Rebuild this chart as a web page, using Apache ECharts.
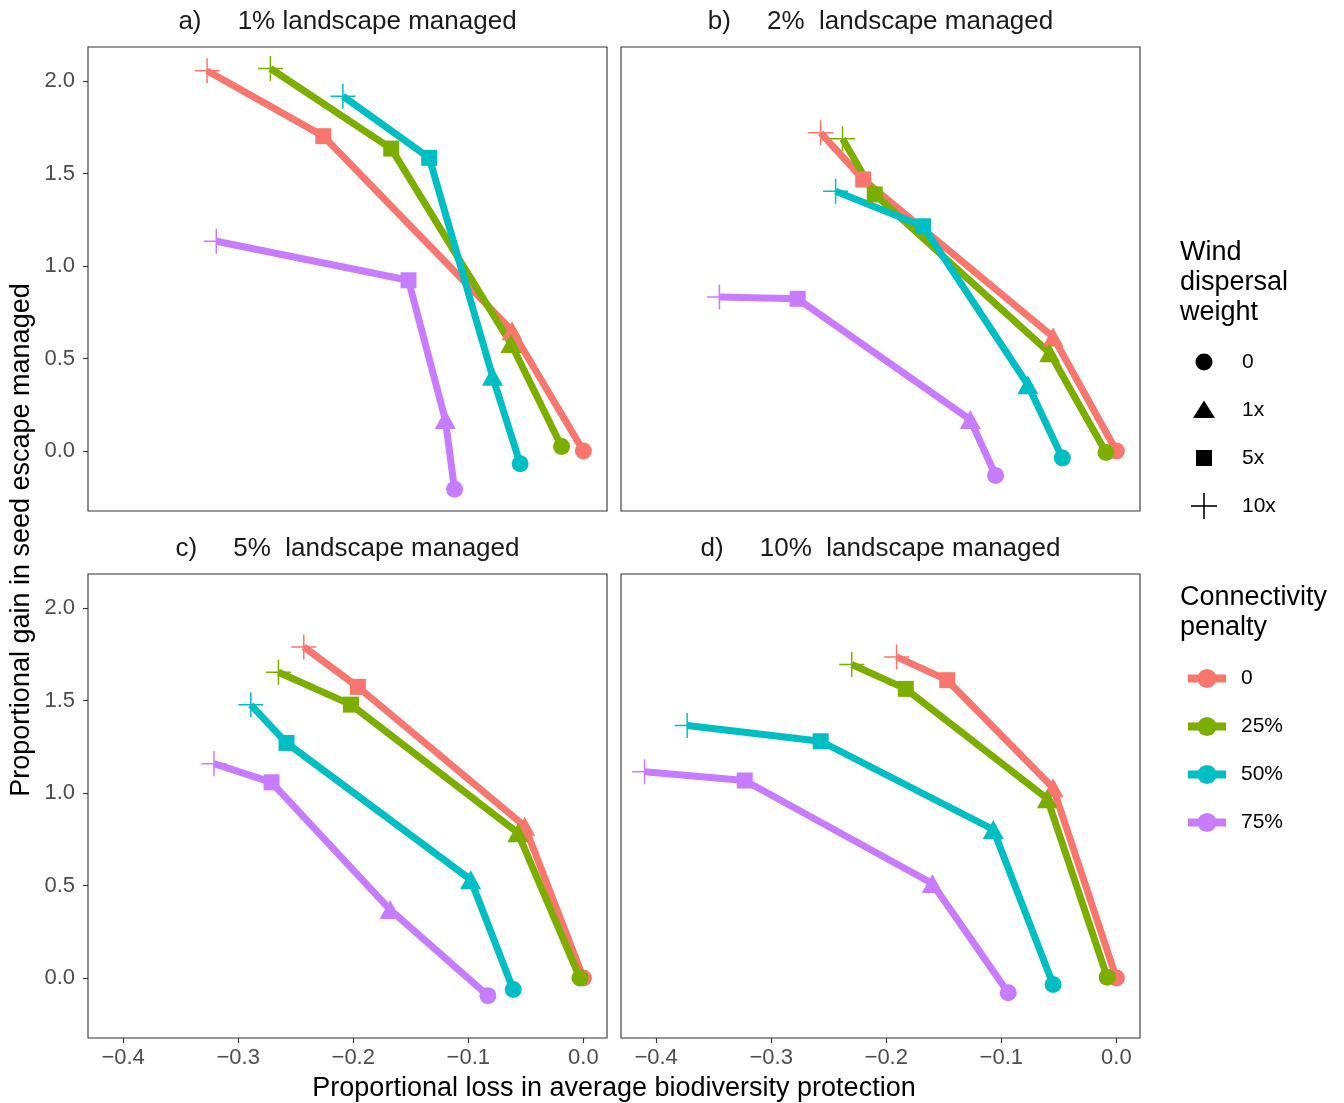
<!DOCTYPE html>
<html>
<head>
<meta charset="utf-8">
<title>Seed escape vs biodiversity protection</title>
<script src="https://cdn.jsdelivr.net/npm/echarts@6.0.0/dist/echarts.min.js"></script>
<style>
  html, body { margin: 0; padding: 0; background: #fff; }
  #chart { width: 1344px; height: 1103px; }
</style>
</head>
<body>
<div id="chart"></div>
<script>
  // categories
  const panelTitles = ['a)     1% landscape managed', 'b)     2%  landscape managed', 'c)     5%  landscape managed', 'd)     10%  landscape managed']
  const penalties = ['0', '25%', '50%', '75%']
  const weights = ['10x', '5x', '1x', '0'] // order along each line
  const weightLegend = ['0', '1x', '5x', '10x']
  const xTicks = [-0.4, -0.3, -0.2, -0.1, 0]
  const yTicks = [0, 0.5, 1, 1.5, 2]

  // rows = connectivity penalty 0 / 25% / 50% / 75%, cols = weight 10x / 5x / 1x / 0
  const lossA = [
    [-0.327, -0.226, -0.062, 0.000],
    [-0.272, -0.167, -0.063, -0.019],
    [-0.209, -0.134, -0.079, -0.055],
    [-0.319, -0.152, -0.120, -0.112]
  ]
  const gainA = [
    [2.056, 1.702, 0.650, 0.000],
    [2.068, 1.635, 0.581, 0.025],
    [1.918, 1.585, 0.404, -0.068],
    [1.134, 0.923, 0.170, -0.206]
  ]
  const lossB = [
    [-0.257, -0.220, -0.055, 0.000],
    [-0.238, -0.210, -0.058, -0.009],
    [-0.244, -0.168, -0.077, -0.047],
    [-0.345, -0.277, -0.127, -0.105]
  ]
  const gainB = [
    [1.720, 1.468, 0.617, 0.000],
    [1.688, 1.387, 0.531, -0.008],
    [1.404, 1.215, 0.359, -0.037],
    [0.833, 0.823, 0.170, -0.132]
  ]
  const lossC = [
    [-0.243, -0.196, -0.051, 0.000],
    [-0.265, -0.202, -0.057, -0.003],
    [-0.289, -0.258, -0.098, -0.061],
    [-0.321, -0.271, -0.168, -0.083]
  ]
  const gainC = [
    [1.790, 1.574, 0.821, 0.000],
    [1.653, 1.478, 0.785, 0.000],
    [1.477, 1.271, 0.532, -0.062],
    [1.159, 1.058, 0.370, -0.095]
  ]
  const lossD = [
    [-0.191, -0.147, -0.055, 0.000],
    [-0.230, -0.183, -0.060, -0.008],
    [-0.373, -0.257, -0.107, -0.055],
    [-0.410, -0.323, -0.160, -0.094]
  ]
  const gainD = [
    [1.736, 1.610, 1.028, 0.000],
    [1.695, 1.563, 0.969, 0.005],
    [1.365, 1.280, 0.803, -0.035],
    [1.115, 1.068, 0.511, -0.080]
  ]

  const losses = [lossA, lossB, lossC, lossD]
  const gains = [gainA, gainB, gainC, gainD]

  const colors = ['#F8766D', '#7CAE00', '#00BFC4', '#C77CFF']
  const font = '"Liberation Sans", Arial, sans-serif'
  const plusPath = 'path://M-0.06,-1L0.06,-1L0.06,-0.06L1,-0.06L1,0.06L0.06,0.06L0.06,1L-0.06,1L-0.06,0.06L-1,0.06L-1,-0.06L-0.06,-0.06Z'
  const symbolOf = { '0': 'circle', '1x': 'triangle', '5x': 'rect', '10x': plusPath }
  const sizeOf = { '0': 17, '1x': [21, 19], '5x': 16, '10x': 25 }

  // panel boxes (left, top)
  const panels = [[88, 47], [621, 47], [88, 574], [621, 574]]
  const panelW = 519
  const panelH = 464
  const xMin = -0.4305, xMax = 0.0205
  const yMin = -0.324, yMax = 2.184

  const fmt = v => v.toFixed(1).replace('-', '\u2212')

  const chart = echarts.init(document.getElementById('chart'))

  const grid = panels.map(p => ({
    left: p[0], top: p[1], width: panelW, height: panelH,
    show: true, borderColor: '#333', borderWidth: 1.1, backgroundColor: '#fff',
    outerBoundsMode: 'none', containLabel: false
  }))

  const xAxis = panels.map((p, i) => ({
    type: 'value', gridIndex: i, min: xMin, max: xMax, position: 'bottom',
    axisLine: { show: false, onZero: false },
    splitLine: { show: false },
    axisTick: { show: i >= 2, length: 5, lineStyle: { color: '#333', width: 1.1 }, customValues: xTicks },
    axisLabel: { show: i >= 2, customValues: xTicks, formatter: fmt, color: '#4D4D4D', fontSize: 22, fontFamily: font, margin: 9 }
  }))

  const yAxis = panels.map((p, i) => ({
    type: 'value', gridIndex: i, min: yMin, max: yMax, position: 'left',
    axisLine: { show: false, onZero: false },
    splitLine: { show: false },
    axisTick: { show: i % 2 === 0, length: 5, lineStyle: { color: '#333', width: 1.1 }, customValues: yTicks },
    axisLabel: { show: i % 2 === 0, customValues: yTicks, formatter: fmt, color: '#4D4D4D', fontSize: 22, fontFamily: font, margin: 13 }
  }))

  const series = []
  panels.forEach((p, i) => {
    penalties.forEach((name, k) => {
      series.push({
        type: 'line',
        name: name,
        xAxisIndex: i,
        yAxisIndex: i,
        color: colors[k],
        symbol: 'circle',
        lineStyle: { width: 7, color: colors[k] },
        itemStyle: { color: colors[k], opacity: 1 },
        emphasis: { disabled: true },
        data: weights.map((w, j) => ({
          value: [losses[i][k][j], gains[i][k][j]],
          symbol: symbolOf[w],
          symbolSize: sizeOf[w]
        }))
      })
    })
  })

  // text + shape legend drawn as graphics
  const graphic = []
  panels.forEach((p, i) => {
    graphic.push({
      type: 'text', x: p[0] + panelW / 2, y: p[1] - 25,
      style: { text: panelTitles[i], font: '26px ' + font, fill: '#1A1A1A', align: 'center', verticalAlign: 'middle' }
    })
  })
  graphic.push({
    type: 'text', x: 614, y: 1089,
    style: { text: 'Proportional loss in average biodiversity protection', font: '27px ' + font, fill: '#000', align: 'center', verticalAlign: 'middle' }
  })
  graphic.push({
    type: 'text', x: 22, y: 540, rotation: Math.PI / 2,
    style: { text: 'Proportional gain in seed escape managed', font: '27px ' + font, fill: '#000', align: 'center', verticalAlign: 'middle' }
  })
  graphic.push({
    type: 'text', x: 1180, y: 238,
    style: { text: 'Wind\ndispersal\nweight', font: '27px ' + font, lineHeight: 30, fill: '#000' }
  })
  graphic.push({
    type: 'text', x: 1180, y: 583,
    style: { text: 'Connectivity\npenalty', font: '27px ' + font, lineHeight: 30, fill: '#000' }
  })
  weightLegend.forEach((w, j) => {
    const cy = 362 + j * 48
    let shape
    if (w === '0') shape = { type: 'circle', shape: { cx: 1204, cy: cy, r: 8.5 }, style: { fill: '#000' } }
    if (w === '1x') shape = { type: 'polygon', shape: { points: [[1204, cy - 9.5], [1215, cy + 8], [1193, cy + 8]] }, style: { fill: '#000' } }
    if (w === '5x') shape = { type: 'rect', shape: { x: 1196, y: cy - 8, width: 16, height: 16 }, style: { fill: '#000' } }
    if (w === '10x') shape = { type: 'polyline', shape: { points: [[1191, cy], [1217, cy]] }, style: { stroke: '#000', lineWidth: 1.6 } }
    graphic.push(shape)
    if (w === '10x') graphic.push({ type: 'polyline', shape: { points: [[1204, cy - 13], [1204, cy + 13]] }, style: { stroke: '#000', lineWidth: 1.6 } })
    graphic.push({
      type: 'text', x: 1242, y: cy,
      style: { text: w, font: '21px ' + font, fill: '#000', verticalAlign: 'middle' }
    })
  })

  const option = {
    animation: false,
    backgroundColor: '#fff',
    grid: grid,
    xAxis: xAxis,
    yAxis: yAxis,
    legend: {
      data: penalties,
      orient: 'vertical',
      left: 1184,
      top: 668,
      padding: 0,
      itemWidth: 38,
      itemHeight: 24,
      itemGap: 27,
      selectedMode: false,
      lineStyle: { width: 8 },
      textStyle: { fontSize: 21, fontFamily: font, color: '#000', padding: [0, 0, 0, 10] }
    },
    graphic: graphic,
    series: series
  }
  chart.setOption(option)
</script>
</body>
</html>
